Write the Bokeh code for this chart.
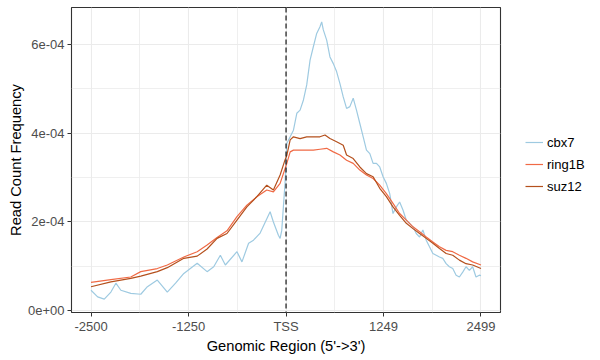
from bokeh.plotting import figure
from bokeh.models import Range1d, FixedTicker, Span, Legend, LegendItem
from bokeh.embed import file_html
from bokeh.resources import INLINE

# ---- data ----
cbx7_x = [-2500, -2415, -2330, -2245, -2181, -2117, -1990, -1862, -1777, -1650,
          -1522, -1416, -1310, -1139, -1012, -927, -842, -778, -629, -565,
          -480, -417, -332, -204, -162, -98, -76, -55, -13, 10,
          53, 95, 138, 180, 223, 265, 308, 350, 393, 435,
          457, 478, 521, 563, 606, 648, 691, 733, 776, 818,
          861, 903, 946, 989, 1031, 1074, 1116, 1159, 1201, 1244,
          1286, 1329, 1371, 1414, 1456, 1499, 1542, 1584, 1627, 1669,
          1712, 1754, 1797, 1839, 1882, 1967, 2009, 2052, 2094, 2137,
          2180, 2222, 2265, 2307, 2350, 2392, 2435, 2477, 2499]
cbx7_y = [4.6e-5, 3.1e-5, 2.6e-5, 4.2e-5, 6.2e-5, 4.6e-5, 3.9e-5, 3.7e-5, 5.4e-5, 6.9e-5,
          4.2e-5, 6.2e-5, 8.4e-5, 1.07e-4, 8.8e-5, 9.9e-5, 1.25e-4, 1.03e-4, 1.33e-4, 1.10e-4,
          1.52e-4, 1.59e-4, 1.75e-4, 2.23e-4, 2.00e-4, 1.70e-4, 1.63e-4, 1.81e-4, 2.87e-4, 3.77e-4,
          3.92e-4, 4.07e-4, 4.45e-4, 4.52e-4, 4.75e-4, 5.09e-4, 5.65e-4, 5.95e-4, 6.25e-4, 6.40e-4,
          6.51e-4, 6.33e-4, 6.10e-4, 5.72e-4, 5.57e-4, 5.39e-4, 5.12e-4, 4.82e-4, 4.56e-4, 4.60e-4,
          4.79e-4, 4.52e-4, 4.22e-4, 3.92e-4, 3.62e-4, 3.54e-4, 3.32e-4, 3.32e-4, 3.24e-4, 3.02e-4,
          2.87e-4, 2.64e-4, 2.19e-4, 2.34e-4, 2.45e-4, 2.27e-4, 2.04e-4, 1.97e-4, 1.89e-4, 1.74e-4,
          1.66e-4, 1.82e-4, 1.59e-4, 1.44e-4, 1.29e-4, 1.21e-4, 1.18e-4, 1.06e-4, 9.9e-5, 9.5e-5,
          8.0e-5, 7.6e-5, 8.7e-5, 9.9e-5, 9.1e-5, 9.9e-5, 7.6e-5, 8.0e-5, 7.9e-5]

ring1b_x = [-2500, -2245, -1990, -1862, -1650, -1522, -1310, -1139, -1012, -884,
            -757, -629, -502, -374, -247, -162, -76, -13, 10, 53,
            95, 180, 265, 350, 435, 521, 606, 691, 776, 861,
            946, 1031, 1116, 1201, 1286, 1371, 1456, 1542, 1627, 1712,
            1797, 1882, 1967, 2052, 2137, 2222, 2307, 2392, 2499]
ring1b_y = [6.4e-5, 7.0e-5, 7.6e-5, 8.8e-5, 9.5e-5, 1.03e-4, 1.21e-4, 1.33e-4, 1.48e-4, 1.65e-4,
            1.80e-4, 2.12e-4, 2.38e-4, 2.57e-4, 2.72e-4, 2.68e-4, 2.87e-4, 3.20e-4, 3.32e-4, 3.58e-4,
            3.62e-4, 3.62e-4, 3.62e-4, 3.62e-4, 3.64e-4, 3.66e-4, 3.58e-4, 3.51e-4, 3.39e-4, 3.32e-4,
            3.17e-4, 3.06e-4, 2.98e-4, 2.83e-4, 2.64e-4, 2.42e-4, 2.19e-4, 2.04e-4, 1.89e-4, 1.78e-4,
            1.66e-4, 1.55e-4, 1.44e-4, 1.36e-4, 1.33e-4, 1.25e-4, 1.18e-4, 1.10e-4, 1.03e-4]

suz12_x = [-2500, -2245, -1990, -1862, -1650, -1522, -1310, -1139, -1012, -884,
           -757, -629, -502, -374, -247, -162, -76, -13, 10, 53,
           95, 180, 265, 350, 435, 499, 563, 648, 733, 776,
           861, 946, 1031, 1116, 1201, 1286, 1371, 1456, 1542, 1627,
           1712, 1797, 1882, 1967, 2052, 2137, 2222, 2307, 2392, 2499]
suz12_y = [5.4e-5, 6.5e-5, 7.3e-5, 7.8e-5, 8.8e-5, 9.7e-5, 1.18e-4, 1.23e-4, 1.39e-4, 1.63e-4,
           1.74e-4, 2.04e-4, 2.34e-4, 2.57e-4, 2.83e-4, 2.72e-4, 3.06e-4, 3.40e-4, 3.50e-4, 3.85e-4,
           3.92e-4, 3.88e-4, 3.92e-4, 3.92e-4, 3.92e-4, 3.96e-4, 3.88e-4, 3.81e-4, 3.73e-4, 3.51e-4,
           3.43e-4, 3.24e-4, 3.09e-4, 3.02e-4, 2.76e-4, 2.57e-4, 2.34e-4, 2.15e-4, 1.97e-4, 1.85e-4,
           1.74e-4, 1.63e-4, 1.52e-4, 1.40e-4, 1.29e-4, 1.25e-4, 1.14e-4, 1.06e-4, 1.03e-4, 9.5e-5]

x_ticks = [-2500, -1250, 0, 1249, 2499]
x_tick_labels = ["-2500", "-1250", "TSS", "1249", "2499"]
x_minor = [-1875, -625, 624.5, 1874]
y_ticks = [0.0, 2e-4, 4e-4, 6e-4]
y_tick_labels = ["0e+00", "2e-04", "4e-04", "6e-04"]
y_minor = [1e-4, 3e-4, 5e-4]

series_names = ["cbx7", "ring1B", "suz12"]
series_colors = ["#9ecae1", "#f06a45", "#b4501d"]

FONT = "Liberation Sans"

p = figure(frame_width=429, frame_height=305, output_backend="svg", toolbar_location=None,
           x_range=Range1d(-2750, 2749), y_range=Range1d(-4.1e-6, 6.835e-4),
           min_border_left=71, min_border_right=0, min_border_top=7, min_border_bottom=36)

p.background_fill_color = "white"
p.border_fill_color = "white"
p.outline_line_color = "#333333"
p.outline_line_width = 1.1

p.xaxis.ticker = FixedTicker(ticks=x_ticks, minor_ticks=x_minor)
p.yaxis.ticker = FixedTicker(ticks=y_ticks, minor_ticks=y_minor)
p.xaxis.major_label_overrides = {float(t): l for t, l in zip(x_ticks, x_tick_labels)}
p.yaxis.major_label_overrides = {float(t): l for t, l in zip(y_ticks, y_tick_labels)}

for ax in (p.xaxis[0], p.yaxis[0]):
    ax.axis_line_color = None
    ax.major_tick_line_color = "#333333"
    ax.major_tick_in = 0
    ax.major_tick_out = 4
    ax.minor_tick_line_color = None
    ax.major_label_text_font = FONT
    ax.major_label_text_font_size = "13px"
    ax.major_label_text_color = "#4d4d4d"
    ax.axis_label_text_font = FONT
    ax.axis_label_text_font_size = "14.7px"
    ax.axis_label_text_font_style = "normal"
    ax.axis_label_text_color = "black"

p.xaxis.axis_label = "Genomic Region (5'->3')"
p.yaxis.axis_label = "Read Count Frequency"
p.xaxis.major_label_standoff = 2
p.xaxis.axis_label_standoff = 1
p.yaxis.major_label_standoff = 3
p.yaxis.axis_label_standoff = 1

for g in (p.xgrid[0], p.ygrid[0]):
    g.grid_line_color = "#ebebeb"
    g.grid_line_width = 1.1
    g.minor_grid_line_color = "#ebebeb"
    g.minor_grid_line_width = 0.8

renderers = []
for xs, ys, c in zip([cbx7_x, ring1b_x, suz12_x], [cbx7_y, ring1b_y, suz12_y], series_colors):
    r = p.line(xs, ys, line_color=c, line_width=1.2)
    renderers.append(r)

p.add_layout(Span(location=0, dimension="height", line_color="black",
                  line_width=1.1, line_dash="5 3"))

legend = Legend(items=[LegendItem(label=n, renderers=[r]) for n, r in zip(series_names, renderers)],
                location=(25, 116), border_line_color=None, background_fill_alpha=0,
                label_text_font=FONT, label_text_font_size="13px", label_text_color="black",
                glyph_width=18, label_standoff=4, margin=10, padding=6, spacing=2)
p.add_layout(legend, "right")

open("out.html", "w").write(file_html(p, INLINE))
